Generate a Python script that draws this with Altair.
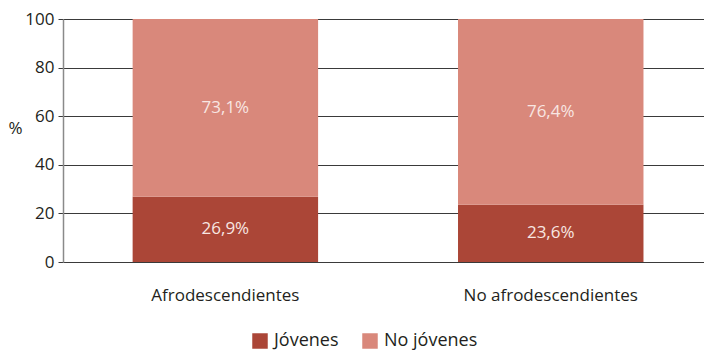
import altair as alt
import pandas as pd

groups = ["Afrodescendientes", "No afrodescendientes"]
series = ["Jóvenes", "No jóvenes"]
jovenes = [26.9, 23.6]
no_jovenes = [73.1, 76.4]
colors = ["#AB4637", "#D9887B"]

rows = []
for g, j, n in zip(groups, jovenes, no_jovenes):
    rows.append({"grupo": g, "serie": series[0], "valor": j, "orden": 0,
                 "etiqueta": f"{j:.1f}".replace(".", ",") + "%"})
    rows.append({"grupo": g, "serie": series[1], "valor": n, "orden": 1,
                 "etiqueta": f"{n:.1f}".replace(".", ",") + "%"})
df = pd.DataFrame(rows)

FONT = "Open Sans"

base = alt.Chart(df).encode(
    x=alt.X("grupo:N", sort=groups, title=None,
            scale=alt.Scale(paddingInner=0.43, paddingOuter=0.2, align=0.535),
            axis=alt.Axis(labelAngle=0, ticks=False, domain=False,
                          labelPadding=25, labelFontSize=17, labelColor="#231F20",
                          labelFont=FONT)),
)

bars = base.mark_bar().encode(
    y=alt.Y("valor:Q", stack="zero", title="%",
            scale=alt.Scale(domain=[0, 100]),
            axis=alt.Axis(values=[0, 20, 40, 60, 80, 100], grid=True,
                          gridColor="#3a3a3a", gridWidth=1,
                          domainColor="#8a8a8a", domainWidth=1.5,
                          tickColor="#3a3a3a", tickSize=5,
                          labelFontSize=17, labelColor="#231F20", labelFont=FONT,
                          labelPadding=4,
                          titleAngle=0, titleFontSize=17, titleFontWeight="normal",
                          titleColor="#231F20", titleFont=FONT,
                          titleX=-55, titleY=118, titleAlign="left")),
    color=alt.Color("serie:N", sort=series,
                    scale=alt.Scale(domain=series, range=colors),
                    legend=alt.Legend(title=None, orient="none", direction="horizontal",
                                      legendX=188, legendY=313,
                                      symbolType="square", symbolSize=240,
                                      symbolStrokeWidth=0, symbolOpacity=1,
                                      labelFontSize=18, labelColor="#231F20",
                                      labelFont=FONT, columnPadding=22,
                                      labelOffset=5)),
    order=alt.Order("orden:Q"),
)

text = base.transform_window(
    cum="sum(valor)", sort=[alt.SortField("orden")], groupby=["grupo"]
).transform_calculate(
    mid="datum.cum - datum.valor / 2"
).mark_text(color="#F8E6E2", fontSize=17, font=FONT).encode(
    y=alt.Y("mid:Q"),
    text="etiqueta:N",
)

chart = (bars + text).properties(
    width=641, height=243,
    autosize=alt.AutoSizeParams(type="none"),
    padding={"left": 63, "top": 19, "right": 0, "bottom": 88},
).configure_view(stroke=None).configure(background="white")

chart.save("out.html", embed_options={"renderer": "svg", "actions": False})
